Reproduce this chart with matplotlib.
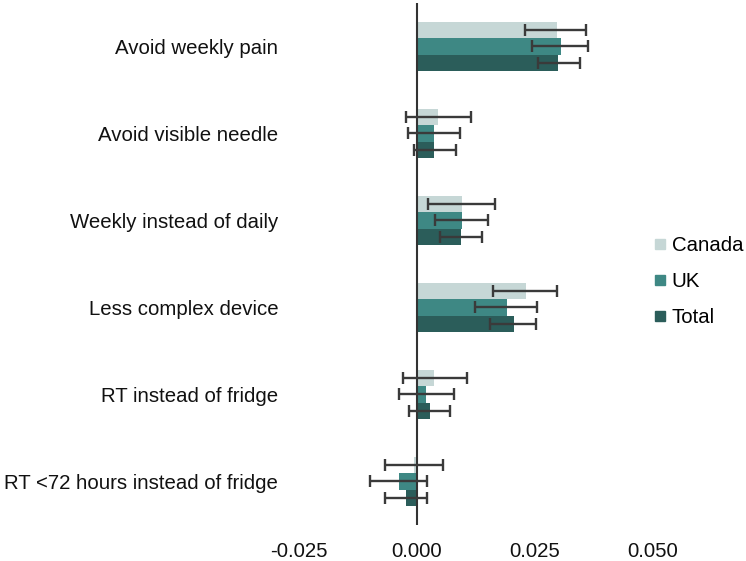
import matplotlib
matplotlib.use("Agg")
import matplotlib.pyplot as plt
from matplotlib.lines import Line2D
import numpy as np

plt.rcParams['font.family'] = ['Liberation Sans', 'DejaVu Sans']

categories = ["Avoid weekly pain", "Avoid visible needle", "Weekly instead of daily",
              "Less complex device", "RT instead of fridge", "RT <72 hours instead of fridge"]
series = ["Canada", "UK", "Total"]
canada = [0.0297, 0.0045, 0.0097, 0.0232, 0.0038, -0.0005]
canada_lo = [0.0230, -0.0023, 0.0025, 0.0163, -0.0029, -0.0067]
canada_hi = [0.0359, 0.0115, 0.0166, 0.0299, 0.0107, 0.0056]
uk = [0.0306, 0.0038, 0.0096, 0.0191, 0.0020, -0.0038]
uk_lo = [0.0246, -0.0018, 0.0039, 0.0124, -0.0037, -0.0099]
uk_hi = [0.0364, 0.0093, 0.0151, 0.0255, 0.0079, 0.0023]
total = [0.0301, 0.0038, 0.0095, 0.0207, 0.0028, -0.0022]
total_lo = [0.0257, -0.0006, 0.0049, 0.0156, -0.0017, -0.0067]
total_hi = [0.0346, 0.0083, 0.0139, 0.0253, 0.0070, 0.0022]
xticks = [-0.025, 0.000, 0.025, 0.050]
xtick_labels = ["-0.025", "0.000", "0.025", "0.050"]

colors = ["#c6d7d6", "#3e8884", "#2b5d5a"]

fig = plt.figure(figsize=(7.46, 5.61), dpi=100)
ax = fig.add_axes([0.3878, 0.0642, 0.5054, 0.9305])

y = np.arange(len(categories))
h = 0.19
data = [(canada, canada_lo, canada_hi), (uk, uk_lo, uk_hi), (total, total_lo, total_hi)]
offsets = [-h, 0, h]
for (vals, lo, hi), off, c, name in zip(data, offsets, colors, series):
    vals = np.array(vals); lo = np.array(lo); hi = np.array(hi)
    ax.barh(y + off, vals, height=h, color=c, label=name, zorder=2)
    ax.errorbar(vals, y + off, xerr=[vals - lo, hi - vals], fmt='none',
                ecolor="#3a3a3a", elinewidth=1.7, capsize=4, capthick=1.7, zorder=4)

ax.axvline(0, color="#333333", lw=1.5, zorder=3)
ax.set_xlim(-0.027, 0.053)
ax.set_ylim(5.5, -0.5)
ax.set_yticks(y)
ax.set_yticklabels(categories, fontsize=14.7, color="#111111")
ax.set_xticks(xticks)
ax.set_xticklabels(xtick_labels, fontsize=14.7, color="#111111")
ax.tick_params(axis='x', length=0, pad=12)
ax.tick_params(axis='y', length=0, pad=8)
for s in ax.spines.values():
    s.set_visible(False)

handles = [Line2D([], [], marker='s', linestyle='none', markersize=7.5,
                  markerfacecolor=c, markeredgecolor=c) for c in colors]
fig.legend(handles, series, loc='center left', bbox_to_anchor=(0.865, 0.498),
           frameon=False, fontsize=14.7, handlelength=0.6, handletextpad=0.3,
           labelspacing=0.82, borderaxespad=0)

fig.savefig("out.png", dpi=100)
